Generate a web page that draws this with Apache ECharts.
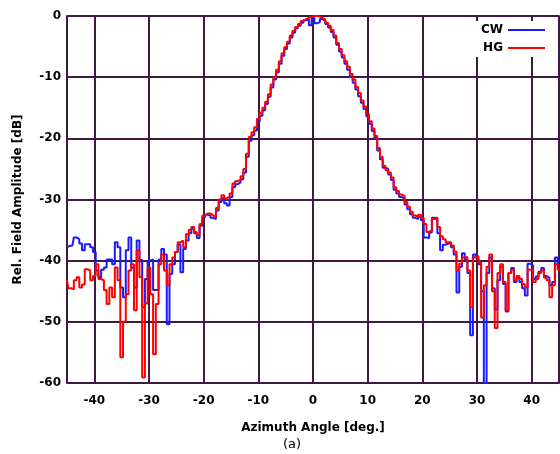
<!DOCTYPE html>
<html>
<head>
<meta charset="utf-8">
<script src="https://cdn.jsdelivr.net/npm/echarts@6/dist/echarts.min.js"></script>
<style>html,body{margin:0;padding:0;background:#fff}#c{width:560px;height:454px}</style>
</head>
<body>
<div id="c"></div>
<script>
const angles = [
-45,-44.5,-44,-43.5,-43,-42.5,-42,-41.5,-41,-40.5,
-40,-39.5,-39,-38.5,-38,-37.5,-37,-36.5,-36,-35.5,
-35,-34.5,-34,-33.5,-33,-32.5,-32,-31.5,-31,-30.5,
-30,-29.5,-29,-28.5,-28,-27.5,-27,-26.5,-26,-25.5,
-25,-24.5,-24,-23.5,-23,-22.5,-22,-21.5,-21,-20.5,
-20,-19.5,-19,-18.5,-18,-17.5,-17,-16.5,-16,-15.5,
-15,-14.5,-14,-13.5,-13,-12.5,-12,-11.5,-11,-10.5,
-10,-9.5,-9,-8.5,-8,-7.5,-7,-6.5,-6,-5.5,
-5,-4.5,-4,-3.5,-3,-2.5,-2,-1.5,-1,-0.5,
0,0.5,1,1.5,2,2.5,3,3.5,4,4.5,
5,5.5,6,6.5,7,7.5,8,8.5,9,9.5,
10,10.5,11,11.5,12,12.5,13,13.5,14,14.5,
15,15.5,16,16.5,17,17.5,18,18.5,19,19.5,
20,20.5,21,21.5,22,22.5,23,23.5,24,24.5,
25,25.5,26,26.5,27,27.5,28,28.5,29,29.5,
30,30.5,31,31.5,32,32.5,33,33.5,34,34.5,
35,35.5,36,36.5,37,37.5,38,38.5,39,39.5,
40,40.5,41,41.5,42,42.5,43,43.5,44,44.5,
45];

const cw = [
-37.8,-37.6,-37.5,-36.2,-36.5,-37.2,-38.3,-37.3,-37.3,-37.8,
-38.6,-41.6,-42.7,-41.5,-41.1,-39.8,-39.8,-40.6,-37.0,-37.8,
-44.4,-46.0,-38.3,-36.2,-41.1,-44.4,-36.7,-39.9,-47.6,-43.0,
-40.0,-39.8,-44.8,-44.8,-39.8,-38.1,-39.0,-50.4,-42.2,-40.6,
-38.6,-37.3,-41.9,-38.1,-36.7,-35.5,-34.8,-35.5,-36.3,-34.3,
-32.9,-32.5,-32.6,-33.0,-33.2,-31.8,-30.4,-29.8,-30.6,-31.0,
-29.6,-28.0,-27.5,-27.2,-26.7,-25.6,-23.0,-20.4,-19.5,-18.7,
-17.3,-16.3,-15.4,-14.4,-13.2,-11.7,-10.4,-9.2,-7.8,-6.5,
-5.4,-4.5,-3.5,-2.7,-2.0,-1.6,-1.1,-0.7,-0.5,-1.5,
-0.3,-1.2,-1.0,-0.5,-0.8,-1.3,-1.9,-2.6,-3.5,-4.7,
-5.8,-6.8,-7.8,-8.8,-9.9,-10.9,-12.0,-13.1,-14.2,-15.2,
-16.4,-17.6,-18.8,-20.0,-22.0,-23.4,-24.8,-25.0,-25.9,-26.8,
-28.4,-29.0,-29.6,-29.8,-30.8,-31.6,-32.4,-33.0,-33.2,-32.8,
-33.4,-36.2,-36.3,-35.4,-33.0,-33.3,-35.5,-38.3,-37.4,-37.2,
-37.2,-37.8,-39.0,-45.2,-41.0,-38.8,-39.8,-42.0,-52.2,-39.0,
-39.5,-40.6,-45.0,-60.0,-42.0,-39.5,-44.5,-48.0,-43.2,-41.0,
-43.8,-48.3,-42.0,-41.2,-43.5,-42.8,-43.5,-44.5,-45.7,-40.5,
-40.8,-43.0,-42.6,-41.8,-41.2,-42.5,-42.8,-44.0,-43.5,-39.5,
-40.5];

const hg = [
-43.2,-44.5,-44.7,-43.2,-42.7,-44.4,-43.9,-41.4,-41.6,-43.2,
-42.5,-40.6,-43.0,-43.2,-44.8,-47.1,-44.4,-46.0,-41.1,-43.2,
-55.8,-50.0,-45.5,-41.6,-40.6,-48.1,-38.3,-42.7,-59.1,-47.0,
-41.1,-45.5,-55.3,-47.1,-40.6,-39.0,-41.6,-44.0,-40.6,-39.5,
-38.6,-37.0,-36.7,-37.8,-35.7,-35.0,-34.5,-35.3,-35.8,-34.0,
-32.6,-32.3,-32.3,-32.6,-32.9,-31.4,-30.0,-29.3,-29.8,-29.5,
-29.0,-27.4,-27.0,-26.8,-26.2,-25.0,-22.5,-19.8,-19.0,-18.2,
-16.8,-15.8,-15.0,-14.0,-12.8,-11.2,-10.0,-8.8,-7.4,-6.1,
-5.1,-4.2,-3.2,-2.4,-1.8,-1.3,-0.8,-0.5,-0.3,-0.1,
0,0,-0.1,-0.3,-0.6,-1.1,-1.6,-2.3,-3.2,-4.4,
-5.4,-6.4,-7.4,-8.3,-9.5,-10.4,-11.6,-12.6,-13.8,-14.8,
-16.0,-17.2,-18.4,-19.6,-21.6,-23.0,-24.5,-25.2,-25.6,-26.4,
-28.0,-28.6,-29.2,-29.4,-30.4,-31.2,-32.0,-32.6,-32.9,-32.5,
-33.0,-34.0,-35.3,-35.0,-33.2,-32.9,-34.5,-36.0,-36.5,-37.0,
-37.0,-37.5,-38.5,-41.6,-40.5,-39.5,-39.4,-41.6,-47.6,-39.5,
-39.2,-40.3,-49.3,-44.0,-41.0,-39.0,-45.0,-51.0,-42.0,-40.6,
-43.5,-48.1,-42.0,-41.5,-43.2,-42.5,-43.0,-43.8,-44.4,-41.5,
-41.4,-43.5,-43.0,-42.0,-41.6,-42.8,-43.2,-46.0,-44.0,-40.6,
-41.5];

const seriesNames = ['CW', 'HG'];
const xTitle = 'Azimuth Angle [deg.]';
const yTitle = 'Rel. Field Amplitude [dB]';
const subCaption = '(a)';

const pair = (ys) => angles.map((a, i) => [a, ys[i]]);
const gridColor = '#3f1a42';
const font = 'DejaVu Sans, Liberation Sans, Arial, sans-serif';

const chart = echarts.init(document.getElementById('c'), null, {renderer: 'canvas'});
chart.setOption({
  animation: false,
  backgroundColor: '#fff',
  grid: {left: 67, right: 1, top: 16, bottom: 71, show: true, borderColor: '#000', borderWidth: 1.5, containLabel: false},
  legend: {
    data: seriesNames, orient: 'vertical', right: 12, top: 21, align: 'right',
    icon: 'rect', itemWidth: 37, itemHeight: 2, itemGap: 6,
    backgroundColor: '#fff', padding: [3, 3, 3, 14],
    textStyle: {fontFamily: font, fontWeight: 'bold', fontSize: 12, color: '#000'}
  },
  xAxis: {
    type: 'value', min: -45, max: 45, splitNumber: 9,
    name: xTitle, nameLocation: 'middle', nameGap: 39,
    nameTextStyle: {fontFamily: font, fontWeight: 'bold', fontSize: 12, color: '#000'},
    axisLine: {show: false}, axisTick: {show: false},
    axisLabel: {showMinLabel: false, showMaxLabel: false, margin: 12, fontFamily: font, fontWeight: 'bold', fontSize: 12, color: '#000'},
    splitLine: {show: true, lineStyle: {color: gridColor, width: 2}}
  },
  yAxis: {
    type: 'value', min: -60, max: 0, interval: 10,
    name: yTitle, nameLocation: 'middle', nameGap: 43, nameRotate: 90,
    nameTextStyle: {fontFamily: font, fontWeight: 'bold', fontSize: 12, color: '#000'},
    axisLine: {show: false}, axisTick: {show: false},
    axisLabel: {margin: 6, fontFamily: font, fontWeight: 'bold', fontSize: 12, color: '#000'},
    splitLine: {show: true, lineStyle: {color: gridColor, width: 2}}
  },
  graphic: [{
    type: 'text', left: 283, top: 438,
    style: {text: subCaption, font: '13px DejaVu Sans, Arial, sans-serif', fill: '#000'}
  }],
  series: [
    {name: 'CW', type: 'line', step: 'middle', data: pair(cw), showSymbol: false, symbol: 'none',
     lineStyle: {color: '#1a1aff', width: 2}, itemStyle: {color: '#1a1aff'}, clip: true},
    {name: 'HG', type: 'line', step: 'middle', data: pair(hg), showSymbol: false, symbol: 'none',
     lineStyle: {color: '#ff0000', width: 2}, itemStyle: {color: '#ff0000'}, clip: true}
  ]
});
</script>
</body>
</html>
